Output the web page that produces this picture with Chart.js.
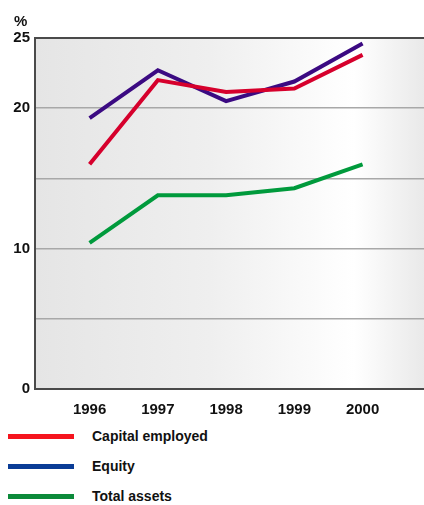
<!DOCTYPE html>
<html>
<head>
<meta charset="utf-8">
<script src="https://cdn.jsdelivr.net/npm/chart.js@4.4.1/dist/chart.umd.min.js"></script>
<style>
  html, body { margin: 0; padding: 0; background: #fff; }
  body { width: 424px; height: 505px; overflow: hidden; font-family: "Liberation Sans", Arial, sans-serif; }
  #wrap { position: relative; width: 424px; height: 420px; }
  #legend { position: relative; height: 85px; }
  .item { position: absolute; left: 8px; height: 20px; }
  .item .swatch { position: absolute; left: 0; top: 8px; width: 66px; height: 5px; }
  .item .label { position: absolute; left: 84px; top: 2px; font-weight: bold; font-size: 14px; color: #111; white-space: nowrap; }
</style>
</head>
<body>
<div id="wrap"><canvas id="chart" width="424" height="420"></canvas></div>
<div id="legend"></div>
<script>
// Return figures, in %, 1996-2000
const years = [1996, 1997, 1998, 1999, 2000];
const capitalEmployed = [16.0, 22.0, 21.15, 21.4, 23.8];
const equity = [19.3, 22.7, 20.5, 21.9, 24.6];
const totalAssets = [10.4, 13.8, 13.8, 14.3, 16.0];

const seriesNames = ['Capital employed', 'Equity', 'Total assets'];
const lineColors = ['#d6002c', '#3b0a82', '#009a3c'];
const legendColors = ['#f5141e', '#0a3c96', '#0c8a3a'];

const yLabelled = [0, 10, 20, 25];

function toPoints(values) {
    return values.map((v, i) => ({ x: years[i], y: v }));
}

// Grey-to-white panel behind the plot, with dark top/left/bottom edges
const panelPlugin = {
    id: 'panel',
    beforeDraw(chart) {
        const { ctx, chartArea: a } = chart;
        const g = ctx.createLinearGradient(a.left, 0, a.right, 0);
        g.addColorStop(0, '#e5e5e5');
        g.addColorStop(0.45, '#efefef');
        g.addColorStop(0.82, '#ffffff');
        g.addColorStop(1, '#e9e9e9');
        ctx.save();
        ctx.fillStyle = g;
        ctx.fillRect(a.left, a.top, a.right - a.left, a.bottom - a.top);
        ctx.restore();
    },
    afterDraw(chart) {
        const { ctx, chartArea: a } = chart;
        ctx.save();
        ctx.strokeStyle = '#4a4a4a';
        ctx.lineWidth = 2;
        ctx.beginPath();
        ctx.moveTo(a.right, a.top);
        ctx.lineTo(a.left, a.top);
        ctx.lineTo(a.left, a.bottom);
        ctx.lineTo(a.right, a.bottom);
        ctx.stroke();
        // unit above the value axis
        ctx.fillStyle = '#111';
        ctx.font = 'bold 15px "Liberation Sans", Arial, sans-serif';
        ctx.textAlign = 'left';
        ctx.textBaseline = 'alphabetic';
        ctx.fillText('%', 14, 26);
        ctx.restore();
    }
};

const chart = new Chart(document.getElementById('chart'), {
    type: 'line',
    data: {
        datasets: [
            { label: seriesNames[0], data: toPoints(capitalEmployed), borderColor: lineColors[0] },
            { label: seriesNames[1], data: toPoints(equity), borderColor: lineColors[1] },
            { label: seriesNames[2], data: toPoints(totalAssets), borderColor: lineColors[2] }
        ].map(d => Object.assign(d, {
            borderWidth: 4,
            pointRadius: 0,
            tension: 0,
            fill: false,
            borderJoinStyle: 'miter',
            borderCapStyle: 'butt'
        }))
    },
    options: {
        responsive: false,
        animation: false,
        layout: { padding: { top: 38, right: 0, left: 0, bottom: 0 } },
        plugins: {
            legend: { display: false },
            tooltip: { enabled: false }
        },
        scales: {
            x: {
                type: 'linear',
                min: 1995.2,
                max: 2000.9,
                grid: { display: false },
                border: { display: false },
                afterFit: (s) => { s.height = 31; },
                afterBuildTicks: (s) => { s.ticks = years.map(v => ({ value: v })); },
                ticks: {
                    padding: 4,
                    color: '#111',
                    font: { family: '"Liberation Sans", Arial, sans-serif', size: 15, weight: 'bold' },
                    callback: (v) => String(v)
                }
            },
            y: {
                min: 0,
                max: 25,
                afterFit: (s) => { s.width = 35; },
                afterBuildTicks: (s) => { s.ticks = [0, 5, 10, 15, 20, 25].map(v => ({ value: v })); },
                grid: {
                    color: (c) => (c.tick.value === 0 || c.tick.value === 25) ? 'rgba(0,0,0,0)' : '#a8a8a8',
                    lineWidth: 1.5,
                    drawTicks: false
                },
                border: { display: false },
                ticks: {
                    padding: 5,
                    color: '#111',
                    font: { family: '"Liberation Sans", Arial, sans-serif', size: 15, weight: 'bold' },
                    callback: (v) => yLabelled.includes(v) ? String(v) : ''
                }
            }
        }
    },
    plugins: [panelPlugin]
});

// Legend under the chart
const legend = document.getElementById('legend');
seriesNames.forEach((name, i) => {
    const item = document.createElement('div');
    item.className = 'item';
    item.style.top = (6 + i * 30) + 'px';
    item.innerHTML = '<div class="swatch"></div><div class="label"></div>';
    item.querySelector('.swatch').style.background = legendColors[i];
    item.querySelector('.label').textContent = name;
    legend.appendChild(item);
});
</script>
</body>
</html>
